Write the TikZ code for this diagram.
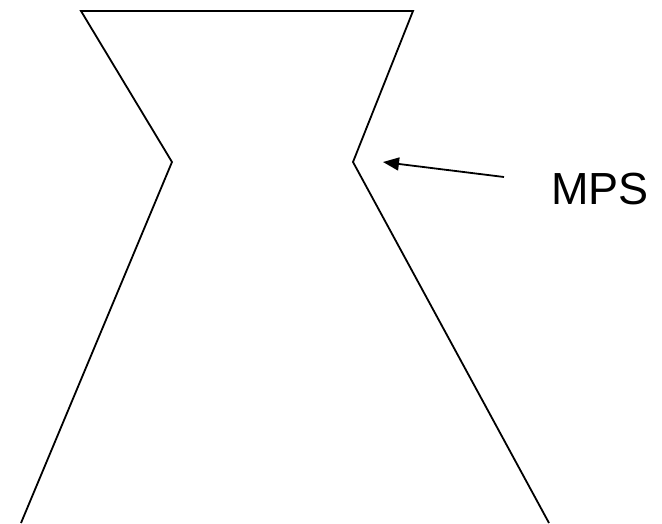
\documentclass[tikz,border=0pt]{standalone}
\usepackage{fontspec}
\setmainfont{Liberation Sans}
\usetikzlibrary{arrows.meta}
\tikzset{
  outline/.style={line width=1.8pt, line join=miter},
  pointer/.style={line width=1.8pt, -{Triangle[length=16pt,width=13pt]}},
  lbl/.style={font=\fontsize{45}{54}\selectfont, inner sep=0pt}
}
\begin{document}
\begin{tikzpicture}[x=1pt,y=-1pt]
\useasboundingbox (0,0) rectangle (662,523);
\coordinate (bl) at (21,523);
\coordinate (lw) at (172,162);
\coordinate (tl) at (81,11);
\coordinate (tr) at (413,11);
\coordinate (rw) at (353,162);
\coordinate (br) at (549,523);
\draw[outline] (bl) -- (lw) -- (tl) -- (tr) -- (rw) -- (br);
\node[lbl] (mps) at (600,189.5) {MPS};
\coordinate (tail) at (504,177);
\coordinate (tip) at (383,162);
\draw[pointer] (tail) -- (tip);
\end{tikzpicture}
\end{document}
